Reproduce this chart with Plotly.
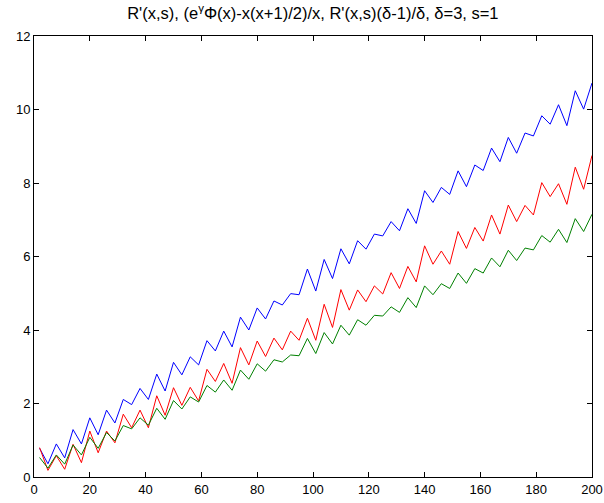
import plotly.graph_objects as go

x_vals = list(range(2, 201, 3))

blue_vals = [0.78, 0.36, 0.90, 0.52, 1.29, 0.90, 1.61, 1.15, 1.82, 1.47,
             2.11, 1.97, 2.41, 2.11, 2.80, 2.34, 3.12, 2.78, 3.27, 3.05,
             3.71, 3.43, 3.97, 3.54, 4.35, 4.00, 4.60, 4.30, 4.79, 4.68,
             4.99, 4.96, 5.66, 5.06, 5.92, 5.40, 6.21, 5.80, 6.43, 6.20,
             6.61, 6.56, 6.95, 6.70, 7.30, 6.90, 7.79, 7.47, 7.88, 7.69,
             8.33, 7.90, 8.49, 8.34, 8.95, 8.58, 9.24, 8.81, 9.36, 9.28,
             9.83, 9.60, 10.13, 9.56, 10.51, 10.01, 10.72]

red_vals = [0.80, 0.18, 0.58, 0.21, 0.89, 0.39, 1.25, 0.66, 1.25, 0.93,
            1.71, 1.34, 1.82, 1.34, 2.21, 1.68, 2.43, 1.95, 2.44, 2.07,
            2.93, 2.60, 3.09, 2.55, 3.52, 3.05, 3.70, 3.28, 3.78, 3.46,
            3.97, 3.72, 4.32, 3.72, 4.70, 4.07, 5.10, 4.54, 5.09, 4.77,
            5.20, 4.98, 5.56, 5.13, 5.73, 5.31, 6.29, 5.79, 6.15, 5.79,
            6.68, 6.22, 6.79, 6.42, 7.13, 6.61, 7.40, 6.95, 7.39, 7.13,
            8.01, 7.63, 7.98, 7.42, 8.43, 7.83, 8.75]

green_vals = [0.53, 0.24, 0.60, 0.35, 0.87, 0.60, 1.08, 0.78, 1.21, 0.98,
              1.40, 1.31, 1.61, 1.41, 1.87, 1.57, 2.08, 1.85, 2.18, 2.04,
              2.49, 2.31, 2.64, 2.36, 2.91, 2.66, 3.08, 2.88, 3.19, 3.13,
              3.32, 3.30, 3.77, 3.36, 3.93, 3.62, 4.13, 3.86, 4.28, 4.13,
              4.40, 4.38, 4.63, 4.48, 4.88, 4.61, 5.20, 4.96, 5.26, 5.13,
              5.55, 5.27, 5.67, 5.55, 5.96, 5.72, 6.17, 5.89, 6.23, 6.18,
              6.57, 6.39, 6.74, 6.38, 7.03, 6.68, 7.15]

x_ticks = list(range(0, 201, 20))
y_ticks = list(range(0, 13, 2))

title_text = "R'(x,s), (e<sup>γ</sup>Φ(x)-x(x+1)/2)/x, R'(x,s)(δ-1)/δ, δ=3, s=1"

fig = go.Figure()
for vals, color in [(blue_vals, "#0000ff"), (red_vals, "#ff0000"), (green_vals, "#008000")]:
    fig.add_trace(go.Scatter(x=x_vals, y=vals, mode="lines",
                             line=dict(color=color, width=1), showlegend=False))

axis_common = dict(showline=True, linecolor="black", linewidth=1, mirror="allticks",
                   ticks="inside", ticklen=5, tickcolor="black", tickwidth=1,
                   showgrid=False, zeroline=False, automargin=False,
                   tickfont=dict(family="Liberation Sans, Arial, sans-serif", size=13, color="black"))

fig.update_layout(
    width=604, height=503,
    margin=dict(l=34, r=12, t=36, b=26, autoexpand=False),
    paper_bgcolor="white", plot_bgcolor="white",
    title=dict(text=title_text, x=0.518, xanchor="center", y=0.974, yanchor="middle",
               font=dict(family="Liberation Sans, Arial, sans-serif", size=16.5, color="black")),
    xaxis=dict(range=[0, 200], tickvals=x_ticks, **axis_common),
    yaxis=dict(range=[0, 12], tickvals=y_ticks, **axis_common),
)

fig.write_html("out.html")
